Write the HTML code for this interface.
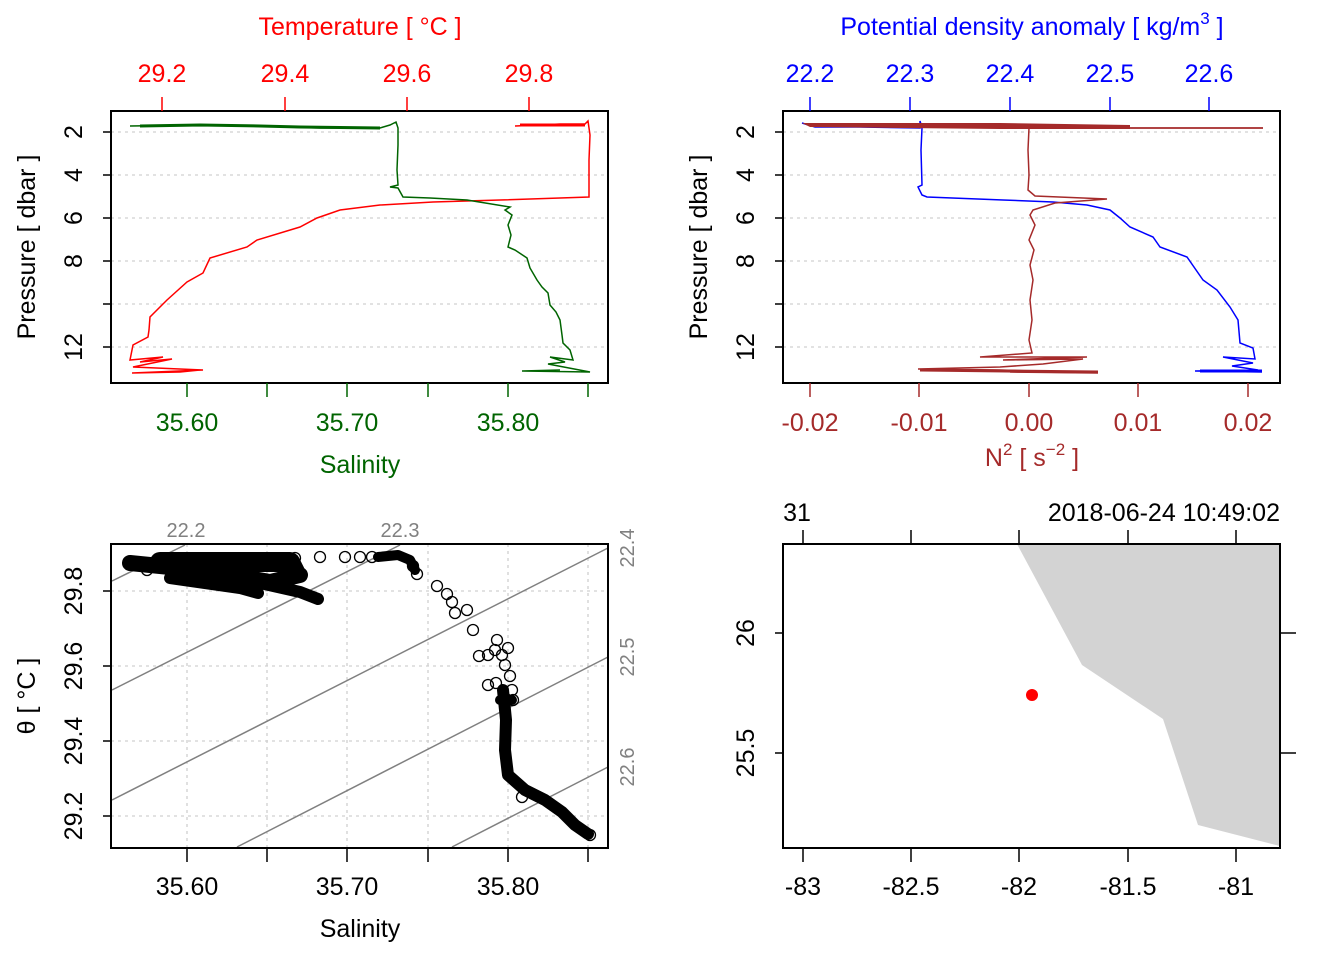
<!DOCTYPE html>
<html><head><meta charset="utf-8"><style>
html,body{margin:0;padding:0;background:#fff;}
svg{display:block;font-family:"Liberation Sans",Arial,sans-serif;}
</style></head><body>
<svg width="1344" height="960" viewBox="0 0 1344 960" xmlns="http://www.w3.org/2000/svg">
<!-- ============ Panel 1: T & S profile ============ -->
<g stroke="#d0d0d0" stroke-width="1.3" stroke-dasharray="3,4">
<line x1="111" y1="132" x2="608" y2="132"/><line x1="111" y1="175" x2="608" y2="175"/>
<line x1="111" y1="218" x2="608" y2="218"/><line x1="111" y1="261" x2="608" y2="261"/>
<line x1="111" y1="304" x2="608" y2="304"/><line x1="111" y1="347" x2="608" y2="347"/>
</g>
<polyline fill="none" stroke="#f00" stroke-width="1.5" points="515,126 540,125 560,124 585,124 588,121 589,128 590,135 589,160 589,197 560,198 500,200 433,202 380,205 340,210 317,218 300,227 257,240 247,247 210,258 203,273 187,282 167,300 150,317 149,330 148,337 133,345 130,360 163,357 140,362 172,359 133,367 203,370 132,373 180,372 200,370"/>
<polyline fill="none" stroke="#f00" stroke-width="3" points="520,125 585,125"/>
<polyline fill="none" stroke="#006400" stroke-width="1.5" points="130,126 200,125 250,126 320,128 380,128 390,125 396,122 398,128 398,145 397,170 398,185 390,187 398,188 403,197 430,198 467,200 510,207 505,210 512,215 508,225 511,235 508,247 515,250 527,258 530,268 537,280 542,287 548,293 550,305 556,312 560,320 562,335 563,343 570,350 573,360 550,357 565,362 548,364 590,372 522,371 560,370"/>
<polyline fill="none" stroke="#006400" stroke-width="3" points="140,126 200,125 260,126 300,127 380,128"/>
<rect x="111" y="111" width="497" height="272" fill="none" stroke="#000" stroke-width="2"/>
<g stroke="#000" stroke-width="1.5">
<line x1="103" y1="132" x2="111" y2="132"/><line x1="103" y1="175" x2="111" y2="175"/>
<line x1="103" y1="218" x2="111" y2="218"/><line x1="103" y1="261" x2="111" y2="261"/>
<line x1="103" y1="304" x2="111" y2="304"/><line x1="103" y1="347" x2="111" y2="347"/>
</g>
<g font-size="25" text-anchor="middle">
<text transform="translate(82,132) rotate(-90)">2</text>
<text transform="translate(82,175) rotate(-90)">4</text>
<text transform="translate(82,218) rotate(-90)">6</text>
<text transform="translate(82,261) rotate(-90)">8</text>
<text transform="translate(82,347) rotate(-90)">12</text>
<text transform="translate(35,247) rotate(-90)">Pressure [ dbar ]</text>
</g>
<g stroke="#f00" stroke-width="1.5">
<line x1="162" y1="97" x2="162" y2="111"/><line x1="285" y1="97" x2="285" y2="111"/>
<line x1="407" y1="97" x2="407" y2="111"/><line x1="529" y1="97" x2="529" y2="111"/>
</g>
<g font-size="25" text-anchor="middle" fill="#f00">
<text x="162" y="82">29.2</text><text x="285" y="82">29.4</text>
<text x="407" y="82">29.6</text><text x="529" y="82">29.8</text>
<text x="360" y="35">Temperature [ °C ]</text>
</g>
<g stroke="#006400" stroke-width="1.5">
<line x1="187" y1="383" x2="187" y2="397"/><line x1="267" y1="383" x2="267" y2="397"/>
<line x1="347" y1="383" x2="347" y2="397"/><line x1="428" y1="383" x2="428" y2="397"/>
<line x1="508" y1="383" x2="508" y2="397"/><line x1="588" y1="383" x2="588" y2="397"/>
</g>
<g font-size="25" text-anchor="middle" fill="#006400">
<text x="187" y="431">35.60</text><text x="347" y="431">35.70</text><text x="508" y="431">35.80</text>
<text x="360" y="473">Salinity</text>
</g>

<!-- ============ Panel 2: density & N2 ============ -->
<g stroke="#d0d0d0" stroke-width="1.3" stroke-dasharray="3,4">
<line x1="783" y1="132" x2="1280" y2="132"/><line x1="783" y1="175" x2="1280" y2="175"/>
<line x1="783" y1="218" x2="1280" y2="218"/><line x1="783" y1="261" x2="1280" y2="261"/>
<line x1="783" y1="304" x2="1280" y2="304"/><line x1="783" y1="347" x2="1280" y2="347"/>
</g>
<polyline fill="none" stroke="#00f" stroke-width="1.5" points="802,123 815,127 860,127 920,128 920,121 922,128 921,150 922,185 918,187 922,195 927,197 1003,200 1053,202 1087,205 1110,210 1120,218 1130,227 1153,237 1160,247 1187,257 1203,280 1217,290 1230,307 1238,320 1240,343 1253,348 1255,359 1223,357 1253,363 1232,366 1258,370 1195,371 1262,372"/>
<polyline fill="none" stroke="#00f" stroke-width="3" points="1200,371 1262,371"/>
<polyline fill="none" stroke="#a52a2a" stroke-width="1.5" points="1029,128 1028,150 1029,175 1028,190 1035,196 1107,199 1055,203 1033,210 1030,215 1035,225 1029,240 1034,250 1030,265 1033,280 1030,300 1032,320 1029,340 1032,353 980,357 1087,357 1003,360 1083,359 1043,364 1000,367 918,369 1000,370 1098,373 1010,372"/>
<polygon fill="#a52a2a" points="802,123 1000,123 1130,125 1130,129 1000,129 810,127"/>
<line x1="1100" y1="128" x2="1263" y2="128" stroke="#a52a2a" stroke-width="1.8"/>
<polyline fill="none" stroke="#a52a2a" stroke-width="3" points="920,370 1098,372"/>
<rect x="783" y="111" width="497" height="272" fill="none" stroke="#000" stroke-width="2"/>
<g stroke="#000" stroke-width="1.5">
<line x1="775" y1="132" x2="783" y2="132"/><line x1="775" y1="175" x2="783" y2="175"/>
<line x1="775" y1="218" x2="783" y2="218"/><line x1="775" y1="261" x2="783" y2="261"/>
<line x1="775" y1="304" x2="783" y2="304"/><line x1="775" y1="347" x2="783" y2="347"/>
</g>
<g font-size="25" text-anchor="middle">
<text transform="translate(754,132) rotate(-90)">2</text>
<text transform="translate(754,175) rotate(-90)">4</text>
<text transform="translate(754,218) rotate(-90)">6</text>
<text transform="translate(754,261) rotate(-90)">8</text>
<text transform="translate(754,347) rotate(-90)">12</text>
<text transform="translate(707,247) rotate(-90)">Pressure [ dbar ]</text>
</g>
<g stroke="#00f" stroke-width="1.5">
<line x1="810" y1="97" x2="810" y2="111"/><line x1="910" y1="97" x2="910" y2="111"/>
<line x1="1010" y1="97" x2="1010" y2="111"/><line x1="1110" y1="97" x2="1110" y2="111"/>
<line x1="1209" y1="97" x2="1209" y2="111"/>
</g>
<g font-size="25" text-anchor="middle" fill="#00f">
<text x="810" y="82">22.2</text><text x="910" y="82">22.3</text><text x="1010" y="82">22.4</text>
<text x="1110" y="82">22.5</text><text x="1209" y="82">22.6</text>
<text x="1032" y="35">Potential density anomaly [ kg/m<tspan font-size="17" dy="-11">3</tspan><tspan dy="11"> ]</tspan></text>
</g>
<g stroke="#a52a2a" stroke-width="1.5">
<line x1="810" y1="383" x2="810" y2="397"/><line x1="919" y1="383" x2="919" y2="397"/>
<line x1="1029" y1="383" x2="1029" y2="397"/><line x1="1138" y1="383" x2="1138" y2="397"/>
<line x1="1248" y1="383" x2="1248" y2="397"/>
</g>
<g font-size="25" text-anchor="middle" fill="#a52a2a">
<text x="810" y="431">-0.02</text><text x="919" y="431">-0.01</text><text x="1029" y="431">0.00</text>
<text x="1138" y="431">0.01</text><text x="1248" y="431">0.02</text>
<text x="1032" y="466">N<tspan font-size="17" dy="-11">2</tspan><tspan dy="11"> [ s</tspan><tspan font-size="17" dy="-11">−2</tspan><tspan dy="11"> ]</tspan></text>
</g>

<!-- ============ Panel 3: TS ============ -->
<g stroke="#d0d0d0" stroke-width="1.3" stroke-dasharray="3,4">
<line x1="187" y1="544" x2="187" y2="848"/><line x1="267" y1="544" x2="267" y2="848"/>
<line x1="347" y1="544" x2="347" y2="848"/><line x1="428" y1="544" x2="428" y2="848"/>
<line x1="508" y1="544" x2="508" y2="848"/><line x1="588" y1="544" x2="588" y2="848"/>
<line x1="111" y1="591" x2="608" y2="591"/><line x1="111" y1="666" x2="608" y2="666"/>
<line x1="111" y1="741" x2="608" y2="741"/><line x1="111" y1="816" x2="608" y2="816"/>
</g>
<g stroke="#808080" stroke-width="1.5">
<line x1="112" y1="581" x2="185" y2="545"/>
<line x1="112" y1="690" x2="400" y2="545"/>
<line x1="112" y1="800" x2="608" y2="548"/>
<line x1="237" y1="847" x2="608" y2="657"/>
<line x1="452" y1="847" x2="608" y2="767"/>
</g>
<g font-size="20" fill="#808080" text-anchor="middle">
<text x="186" y="537">22.2</text><text x="400" y="537">22.3</text>
<text transform="translate(634,548) rotate(-90)">22.4</text>
<text transform="translate(634,657) rotate(-90)">22.5</text>
<text transform="translate(634,767) rotate(-90)">22.6</text>
</g>
<g fill="none" stroke="#000" stroke-linecap="round" stroke-linejoin="round">
<polyline stroke-width="16" points="130,563 180,568 230,575 270,582 300,575"/>
<polyline stroke-width="20" points="160,562 220,562 290,562 295,572"/>
<polyline stroke-width="12" points="170,578 240,588 258,593"/>
<polyline stroke-width="12" points="260,583 300,592 318,599"/>
<polyline stroke-width="10" points="378,557 398,555 410,560 415,570"/>
<polyline stroke-width="12" points="503,690 506,720 505,750 508,775 525,790 545,800 562,812 575,825 588,834"/>
<polyline stroke-width="10" points="500,700 512,700"/>
</g>
<g fill="none" stroke="#000" stroke-width="1.3">
<circle cx="130" cy="562" r="5.5"/><circle cx="147" cy="570" r="5.5"/><circle cx="295" cy="558" r="5.5"/>
<circle cx="320" cy="557" r="5.5"/><circle cx="345" cy="557" r="5.5"/><circle cx="360" cy="557" r="5.5"/>
<circle cx="372" cy="557" r="5.5"/><circle cx="413" cy="566" r="5.5"/><circle cx="417" cy="574" r="5.5"/>
<circle cx="437" cy="586" r="5.5"/><circle cx="447" cy="594" r="5.5"/><circle cx="452" cy="602" r="5.5"/>
<circle cx="455" cy="613" r="5.5"/><circle cx="467" cy="610" r="5.5"/><circle cx="473" cy="630" r="5.5"/>
<circle cx="497" cy="640" r="5.5"/><circle cx="479" cy="656" r="5.5"/><circle cx="488" cy="655" r="5.5"/>
<circle cx="495" cy="650" r="5.5"/><circle cx="502" cy="655" r="5.5"/><circle cx="508" cy="648" r="5.5"/>
<circle cx="488" cy="685" r="5.5"/><circle cx="496" cy="683" r="5.5"/><circle cx="510" cy="676" r="5.5"/>
<circle cx="505" cy="665" r="5.5"/><circle cx="512" cy="690" r="5.5"/><circle cx="513" cy="700" r="5.5"/>
<circle cx="522" cy="797" r="5.5"/><circle cx="590" cy="835" r="5.5"/>
</g>
<rect x="111" y="544" width="497" height="304" fill="none" stroke="#000" stroke-width="2"/>
<g stroke="#000" stroke-width="1.5">
<line x1="103" y1="591" x2="111" y2="591"/><line x1="103" y1="666" x2="111" y2="666"/>
<line x1="103" y1="741" x2="111" y2="741"/><line x1="103" y1="816" x2="111" y2="816"/>
<line x1="187" y1="848" x2="187" y2="862"/><line x1="267" y1="848" x2="267" y2="862"/>
<line x1="347" y1="848" x2="347" y2="862"/><line x1="428" y1="848" x2="428" y2="862"/>
<line x1="508" y1="848" x2="508" y2="862"/><line x1="588" y1="848" x2="588" y2="862"/>
</g>
<g font-size="25" text-anchor="middle">
<text transform="translate(82,591) rotate(-90)">29.8</text>
<text transform="translate(82,666) rotate(-90)">29.6</text>
<text transform="translate(82,741) rotate(-90)">29.4</text>
<text transform="translate(82,816) rotate(-90)">29.2</text>
<text transform="translate(35,696) rotate(-90)">θ [ °C ]</text>
<text x="187" y="895">35.60</text><text x="347" y="895">35.70</text><text x="508" y="895">35.80</text>
<text x="360" y="937">Salinity</text>
</g>

<!-- ============ Panel 4: map ============ -->
<polygon fill="#d3d3d3" points="1017,544 1082,665 1163,719 1198,825 1280,846 1280,544"/>
<circle cx="1032" cy="695" r="6" fill="#f00"/>
<rect x="783" y="544" width="497" height="304" fill="none" stroke="#000" stroke-width="2"/>
<g stroke="#000" stroke-width="1.5">
<line x1="803" y1="848" x2="803" y2="862"/><line x1="911" y1="848" x2="911" y2="862"/>
<line x1="1019" y1="848" x2="1019" y2="862"/><line x1="1128" y1="848" x2="1128" y2="862"/>
<line x1="1236" y1="848" x2="1236" y2="862"/>
<line x1="803" y1="530" x2="803" y2="544"/><line x1="911" y1="530" x2="911" y2="544"/>
<line x1="1019" y1="530" x2="1019" y2="544"/><line x1="1128" y1="530" x2="1128" y2="544"/>
<line x1="1236" y1="530" x2="1236" y2="544"/>
<line x1="775" y1="633" x2="783" y2="633"/><line x1="775" y1="753" x2="783" y2="753"/>
<line x1="1280" y1="633" x2="1296" y2="633"/><line x1="1280" y1="753" x2="1296" y2="753"/>
</g>
<g font-size="25" text-anchor="middle">
<text x="803" y="895">-83</text><text x="911" y="895">-82.5</text><text x="1019" y="895">-82</text>
<text x="1128" y="895">-81.5</text><text x="1236" y="895">-81</text>
<text transform="translate(754,633) rotate(-90)">26</text>
<text transform="translate(754,753) rotate(-90)">25.5</text>
<text x="797" y="521">31</text>
<text x="1280" y="521" text-anchor="end">2018-06-24 10:49:02</text>
</g>
</svg>
</body></html>
